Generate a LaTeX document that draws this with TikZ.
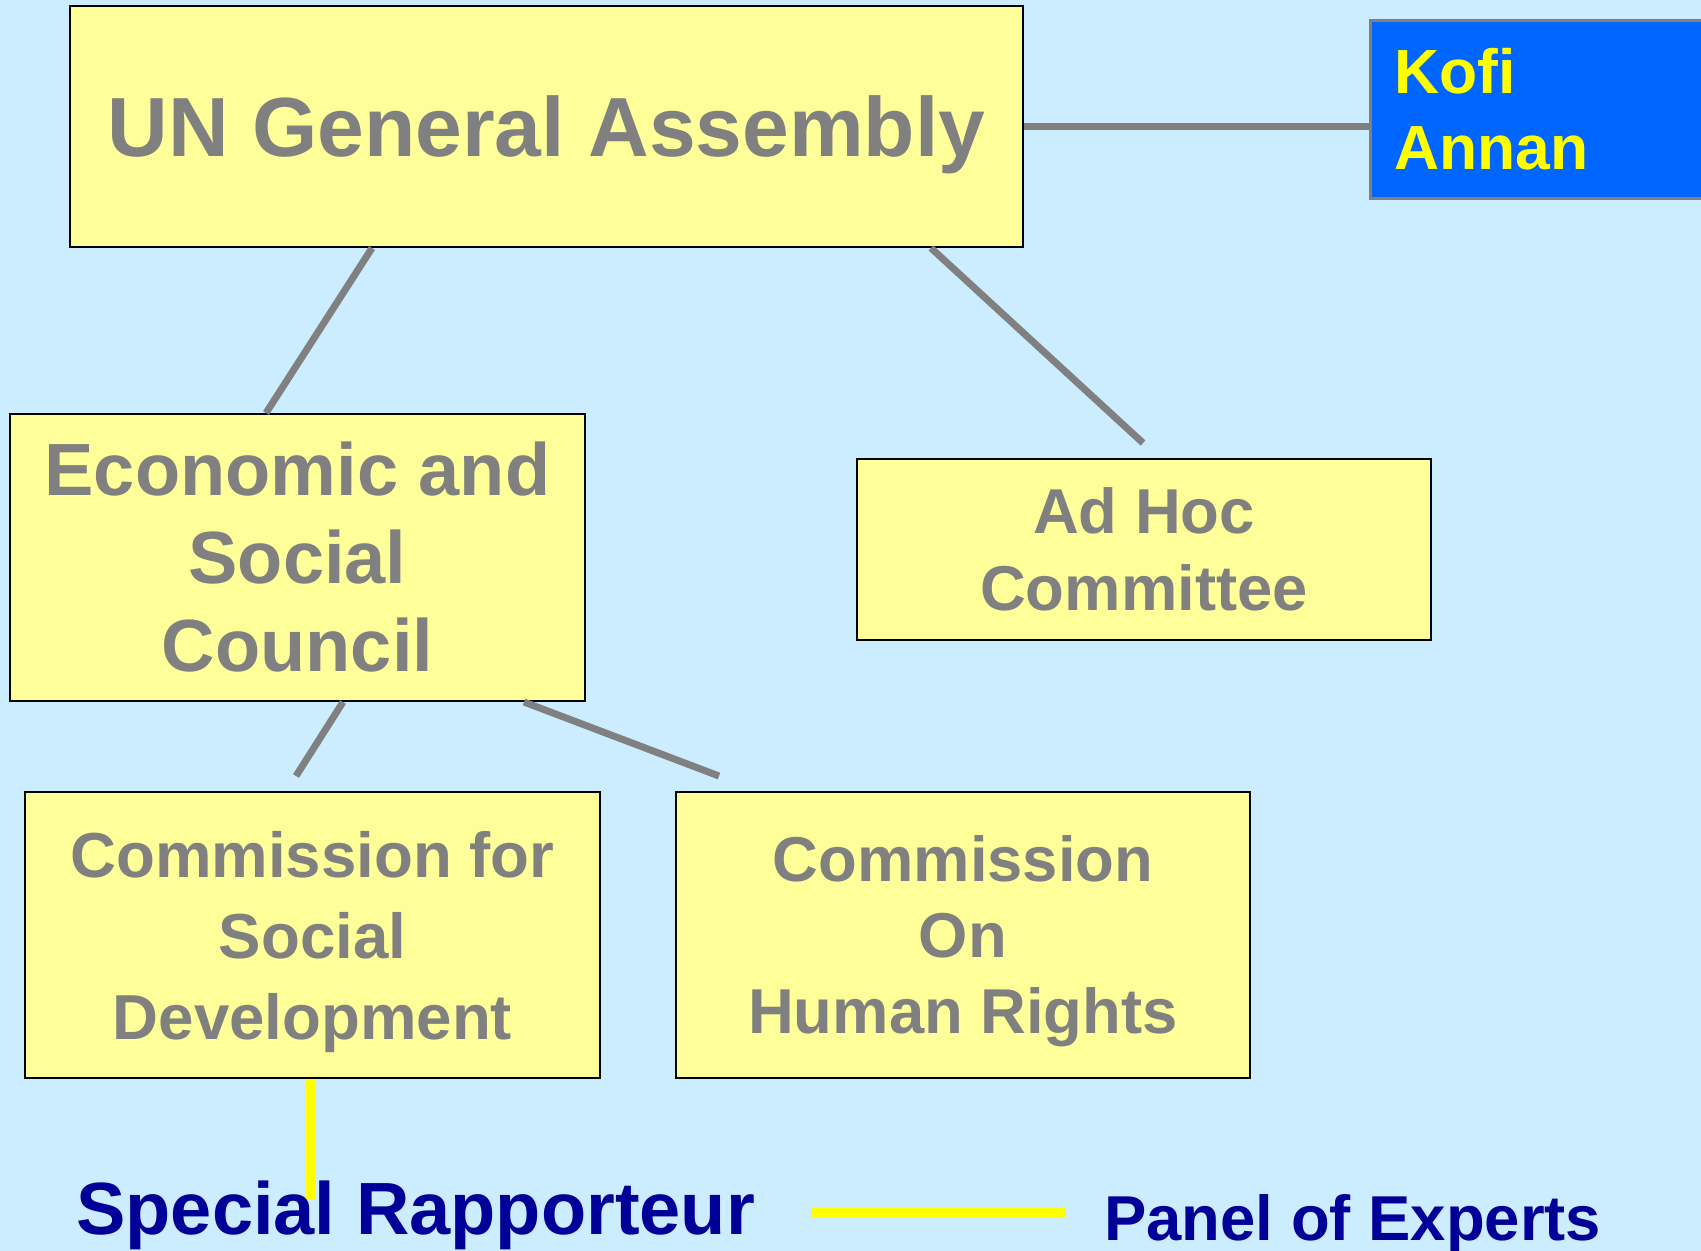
\documentclass[tikz,border=0pt]{standalone}
\usepackage{fontspec}
\setmainfont{Liberation Sans}
\usetikzlibrary{positioning, calc}
\definecolor{skyback}{HTML}{CCECFF}
\definecolor{paleyellow}{HTML}{FFFF99}
\definecolor{kofiblue}{HTML}{0066FF}
\definecolor{boxgray}{HTML}{808080}
\definecolor{navytext}{HTML}{000099}
\definecolor{brightyellow}{HTML}{FFFF00}

\begin{document}
\begin{tikzpicture}[x=0.5pt, y=-0.5pt,
  unbox/.style={draw=black, line width=1pt, fill=paleyellow, text=boxgray, align=center, inner sep=0pt, anchor=north west},
  link/.style={draw=boxgray, line width=3.5pt},
  yellink/.style={draw=brightyellow, line width=5pt},
  bottomtext/.style={text=navytext, inner sep=0pt, anchor=base west}]
% Background
\fill[skyback] (0,0) rectangle (1701,1251);
\useasboundingbox (0,0) rectangle (1701,1251);
\clip (0,0) rectangle (1701,1251);

% Boxes
\node[unbox, minimum width=476.5pt, minimum height=120.5pt, text depth=0pt,
  font=\bfseries\fontsize{42}{50}\selectfont] (ga) at (69,5) {UN General Assembly};
\node[draw=boxgray, line width=1.5pt, fill=kofiblue, text=brightyellow, anchor=north west,
  font=\bfseries\fontsize{31.2}{38}\selectfont,
  minimum height=89pt, inner xsep=12pt, inner ysep=0pt, text width=156pt, align=left] (kofi) at (1369,19)
  {Kofi\\Annan};
\node[unbox, minimum width=287.5pt, minimum height=143.5pt,
  font=\bfseries\fontsize{37}{44}\selectfont] (ecosoc) at (9,413) {Economic and\\Social\\Council};
\node[unbox, minimum width=287pt, minimum height=90.5pt,
  font=\bfseries\fontsize{31.7}{38.5}\selectfont] (adhoc) at (856,458) {Ad Hoc\\Committee};
\node[unbox, minimum width=287.5pt, minimum height=143pt, text depth=0pt,
  font=\bfseries\fontsize{31.8}{40.5}\selectfont] (csd) at (24,791) {Commission for\\Social\\Development};
\node[unbox, minimum width=287pt, minimum height=143pt, text depth=0pt,
  font=\bfseries\fontsize{31.7}{38}\selectfont] (chr) at (675,791) {Commission\\On\\Human Rights};

% Bottom labels
\node[bottomtext, font=\bfseries\fontsize{37}{44}\selectfont] (rapp) at (76,1234) {Special Rapporteur};
\node[bottomtext, font=\bfseries\fontsize{31.7}{38}\selectfont] (panel) at (1104,1240) {Panel of Experts};

% Free ends
\coordinate (rappend) at (311,1199);
\coordinate (panelL) at (811,1213);
\coordinate (panelR) at (1066,1213);

% Connectors
\draw[link] (ga.east) -- (ga.east -| kofi.west);
\draw[link] ($(ga.south west)+(303,0)$) -- ($(ecosoc.north west)+(257,0)$);
\draw[link] ($(ga.south west)+(862,0)$) -- ($(adhoc.north)+(-1,-15)$);
\draw[link] ($(ecosoc.south west)+(334,0)$) -- ($(csd.north west)+(272,-15)$);
\draw[link] ($(ecosoc.south west)+(515,0)$) -- ($(chr.north west)+(44,-15)$);
\draw[yellink] ($(csd.south west)+(287,0)$) -- (rappend);
\draw[yellink] (panelL) -- (panelR);
\end{tikzpicture}
\end{document}
